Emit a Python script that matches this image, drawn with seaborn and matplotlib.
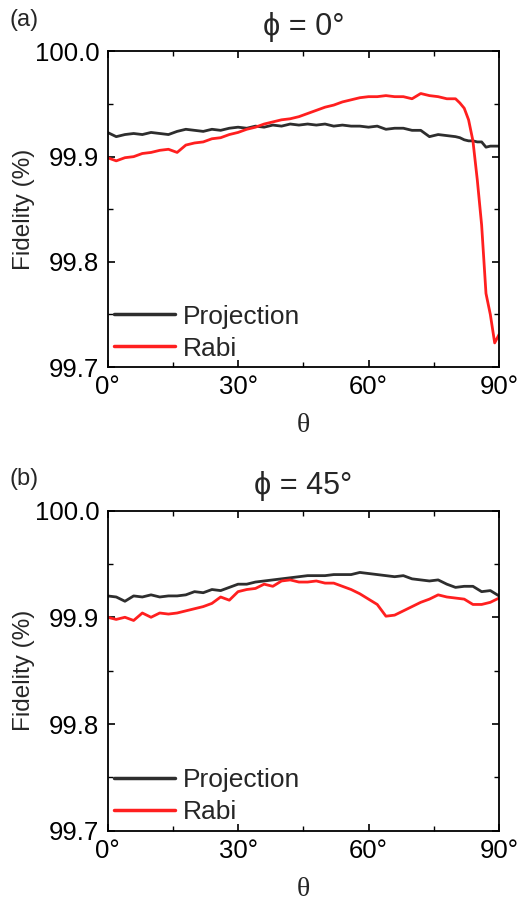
import numpy as np
import pandas as pd
import seaborn as sns
import matplotlib.pyplot as plt
from matplotlib.ticker import MultipleLocator, FixedLocator

# theta grid for panel (a): 2 deg steps, then 1 deg near the drop
theta_a = list(range(0, 80, 2)) + list(range(80, 91))
projection_a = [99.923, 99.919, 99.921, 99.922, 99.921, 99.923, 99.922, 99.921, 99.924, 99.926,
                99.925, 99.924, 99.926, 99.925, 99.927, 99.928, 99.927, 99.929, 99.928, 99.930,
                99.929, 99.931, 99.930, 99.931, 99.930, 99.931, 99.929, 99.930, 99.929, 99.929,
                99.928, 99.929, 99.926, 99.927, 99.927, 99.925, 99.925, 99.919, 99.921, 99.920,
                99.919, 99.918, 99.916, 99.915, 99.915, 99.914, 99.914, 99.909, 99.910, 99.910, 99.910]
rabi_a = [99.899, 99.896, 99.899, 99.900, 99.903, 99.904, 99.906, 99.907, 99.904, 99.911,
          99.913, 99.914, 99.917, 99.918, 99.921, 99.923, 99.926, 99.928, 99.931, 99.933,
          99.935, 99.936, 99.938, 99.941, 99.944, 99.947, 99.949, 99.952, 99.954, 99.956,
          99.957, 99.957, 99.958, 99.957, 99.957, 99.955, 99.960, 99.958, 99.957, 99.955,
          99.955, 99.951, 99.946, 99.935, 99.915, 99.878, 99.835, 99.770, 99.750, 99.723, 99.731]

theta_b = list(range(0, 91, 2))
projection_b = [99.920, 99.919, 99.915, 99.920, 99.919, 99.921, 99.919, 99.920, 99.920, 99.921,
                99.924, 99.923, 99.926, 99.925, 99.928, 99.931, 99.931, 99.933, 99.934, 99.935,
                99.936, 99.937, 99.938, 99.939, 99.939, 99.939, 99.940, 99.940, 99.940, 99.942,
                99.941, 99.940, 99.939, 99.938, 99.939, 99.936, 99.935, 99.934, 99.935, 99.931,
                99.928, 99.929, 99.929, 99.924, 99.925, 99.920]
rabi_b = [99.900, 99.898, 99.900, 99.897, 99.904, 99.900, 99.904, 99.903, 99.904, 99.906,
          99.908, 99.910, 99.913, 99.919, 99.916, 99.924, 99.926, 99.927, 99.931, 99.929,
          99.934, 99.935, 99.933, 99.933, 99.934, 99.932, 99.932, 99.929, 99.926, 99.922,
          99.917, 99.912, 99.901, 99.902, 99.906, 99.910, 99.914, 99.917, 99.921, 99.919,
          99.918, 99.917, 99.912, 99.912, 99.914, 99.918]

titles = ['\u03d5 = 0\u00b0', '\u03d5 = 45\u00b0']
panel_labels = ['(a)', '(b)']
x_ticks = [0, 30, 60, 90]
x_ticklabels = ['0\u00b0', '30\u00b0', '60\u00b0', '90\u00b0']
y_ticks = [99.7, 99.8, 99.9, 100.0]

sns.set_theme(style='ticks')
plt.rcParams['font.family'] = ['Liberation Sans', 'DejaVu Sans']
plt.rcParams['axes.linewidth'] = 1.3

colors = {'Projection': '#2e2e2e', 'Rabi': '#ff1f1f'}


def make_df(theta, proj, rabi):
    return pd.DataFrame({
        'theta': theta + theta,
        'fidelity': proj + rabi,
        'method': ['Projection'] * len(theta) + ['Rabi'] * len(theta),
    })


def draw_panel(ax, df, title, label):
    sns.lineplot(data=df, x='theta', y='fidelity', hue='method', palette=colors,
                 linewidth=2.0, ax=ax)
    ax.set_xlim(0, 90)
    ax.set_ylim(99.7, 100.0)
    ax.xaxis.set_major_locator(FixedLocator(x_ticks))
    ax.set_xticklabels(x_ticklabels)
    ax.xaxis.set_minor_locator(MultipleLocator(15))
    ax.yaxis.set_major_locator(FixedLocator(y_ticks))
    ax.set_yticklabels(['%.1f' % v for v in y_ticks])
    ax.yaxis.set_minor_locator(MultipleLocator(0.05))
    ax.tick_params(which='both', direction='in', top=True, right=True, colors='black',
                   labelsize=18.5, pad=6)
    ax.tick_params(which='major', length=5, width=1.2)
    ax.tick_params(which='minor', length=3.5, width=1.0)
    for s in ax.spines.values():
        s.set_color('black')
    ax.set_xlabel('\u03b8', family='Liberation Serif', fontsize=20, labelpad=10)
    ax.set_ylabel('Fidelity (%)', fontsize=17.5, labelpad=0)
    ax.set_title(title, fontsize=22, pad=12)
    ax.text(-0.25, 1.10, label, transform=ax.transAxes, fontsize=17, va='center', ha='left')
    leg = ax.legend(loc='lower left', frameon=False, fontsize=19, handlelength=2.3,
                    handletextpad=0.3, labelspacing=0.3, borderaxespad=0.05,
                    borderpad=0.2)
    for line in leg.get_lines():
        line.set_linewidth(2.5)


fig = plt.figure(figsize=(5.22, 9.02), dpi=100)
ax_a = fig.add_axes([0.206, 0.593, 0.750, 0.350])
ax_b = fig.add_axes([0.206, 0.079, 0.750, 0.355])

draw_panel(ax_a, make_df(theta_a, projection_a, rabi_a), titles[0], panel_labels[0])
draw_panel(ax_b, make_df(theta_b, projection_b, rabi_b), titles[1], panel_labels[1])

fig.savefig('out.png', dpi=100)
